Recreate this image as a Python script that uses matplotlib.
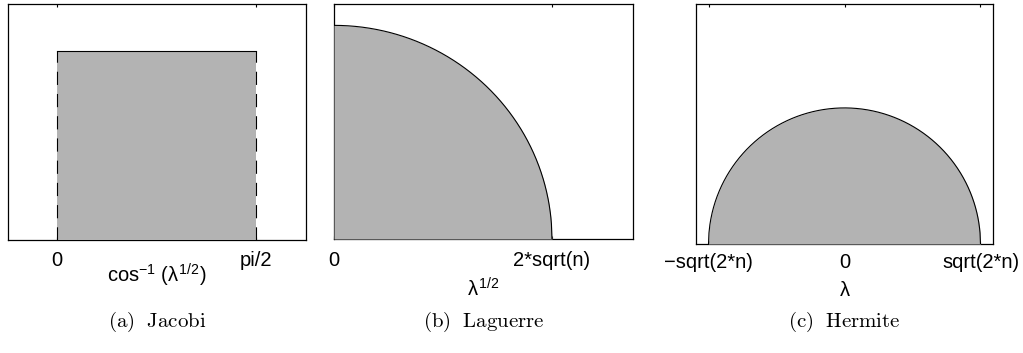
import numpy as np
import matplotlib
matplotlib.use("Agg")
import matplotlib.pyplot as plt

plt.rcParams["font.family"] = ["Liberation Sans", "DejaVu Sans"]
plt.rcParams["mathtext.fontset"] = "custom"
plt.rcParams["mathtext.rm"] = "Liberation Sans"
plt.rcParams["mathtext.it"] = "Liberation Sans"
plt.rcParams["mathtext.bf"] = "Liberation Sans:bold"
plt.rcParams["lines.scale_dashes"] = False

# Support of each limiting eigenvalue density (n = matrix size)
n = 25
jacobi_support = [0.0, np.pi / 2]
laguerre_support = [0.0, 2 * np.sqrt(n)]
hermite_support = [-np.sqrt(2 * n), np.sqrt(2 * n)]

jacobi_ticks = ["0", "pi/2"]
laguerre_ticks = ["0", "2*sqrt(n)"]
hermite_ticks = ["\u2212sqrt(2*n)", "0", "sqrt(2*n)"]

xlabels = [r"cos$^{-1}$ ($\lambda^{1/2}$)", r"$\lambda^{1/2}$", r"$\lambda$"]
captions = [r"$\mathrm{(a)\ \ Jacobi}$", r"$\mathrm{(b)\ \ Laguerre}$", r"$\mathrm{(c)\ \ Hermite}$"]

GRAY = "#b3b3b3"
FS = 14.5
W, H = 1023, 353
fig = plt.figure(figsize=(W / 100, H / 100), dpi=100)


def add_axes_px(left, right, top, bottom):
    ax = fig.add_axes([left / W, 1 - bottom / H, (right - left) / W, (bottom - top) / H])
    ax._px = (top, bottom)
    return ax


def style(ax, pad):
    for s in ax.spines.values():
        s.set_linewidth(0.9)
        s.set_zorder(1)
    ax.set_yticks([])
    ax.tick_params(axis="x", direction="in", top=True, bottom=True, length=2.5,
                   width=0.8, labelsize=FS, pad=pad)


# (a) Jacobi: uniform density in the angle variable
ax1 = add_axes_px(8, 306, 4, 239.5)
a, b = jacobi_support
h1 = 1.0 / (b - a)
ax1.fill_between(jacobi_support, [h1, h1], 0, color=GRAY, lw=0, zorder=3)
ax1.plot(jacobi_support, [h1, h1], color="black", lw=0.8, zorder=4)
for xv in jacobi_support:
    ax1.plot([xv, xv], [0, h1], color="black", lw=0.8, ls=(0, (9.5, 6.5)), zorder=4)
span = b - a
ax1.set_xlim(a - 0.247 * span, b + 0.25 * span)
ax1.set_ylim(0, 1.25 * h1)
ax1.set_xticks(jacobi_support)
ax1.set_xticklabels(jacobi_ticks)
style(ax1, 8.5)

# (b) Laguerre: quarter circle for the singular values
ax2 = add_axes_px(334, 633, 4, 239)
r2 = laguerre_support[1]
x2 = np.linspace(0, r2, 400)
y2 = np.sqrt(np.clip(r2 ** 2 - x2 ** 2, 0, None)) / (np.pi * n)
ax2.fill_between(x2, y2, 0, color=GRAY, lw=0, zorder=3)
ax2.plot(x2, y2, color="black", lw=0.8, zorder=4)
ax2.set_xlim(0, r2 / 0.729)
ax2.set_ylim(0, y2.max() * 1.1)
ax2.set_xticks(laguerre_support)
ax2.set_xticklabels(laguerre_ticks)
style(ax2, 8.5)

# (c) Hermite: Wigner semicircle
ax3 = add_axes_px(696, 993, 4, 244)
r3 = hermite_support[1]
x3 = np.linspace(-r3, r3, 600)
y3 = np.sqrt(np.clip(r3 ** 2 - x3 ** 2, 0, None)) / (np.pi * n)
ax3.fill_between(x3, y3, 0, color=GRAY, lw=0, zorder=3)
ax3.plot(x3, y3, color="black", lw=0.8, zorder=4)
ax3.set_xlim(-1.092 * r3, 1.092 * r3)
ax3.set_ylim(0, y3.max() / 0.567)
ax3.set_xticks([hermite_support[0], 0, hermite_support[1]])
ax3.set_xticklabels(hermite_ticks)
style(ax3, 6.5)

# x-label centre heights (pixels from the top of the figure)
label_y = [275, 289, 291]

for ax, lab, ly, cap in zip([ax1, ax2, ax3], xlabels, label_y, captions):
    top, bottom = ax._px
    ax.set_xlabel(lab, fontsize=FS, va="center")
    ax.xaxis.set_label_coords(0.5, (bottom - ly) / (bottom - top))
    pos = ax.get_position()
    fig.text((pos.x0 + pos.x1) / 2, 1 - 322 / H, cap, ha="center", va="center",
             fontsize=15, math_fontfamily="cm")

fig.savefig("out.png", dpi=100)
